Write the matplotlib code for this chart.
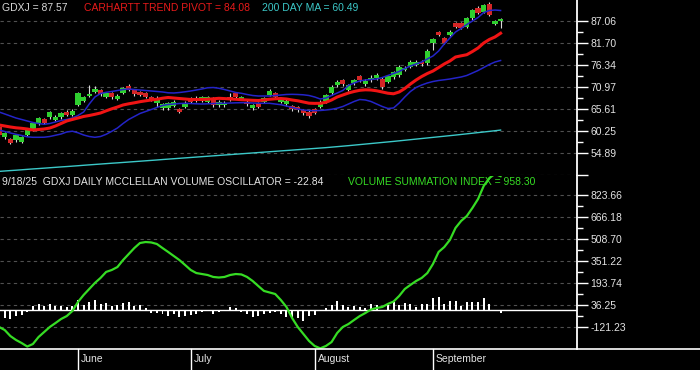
import numpy as np
import matplotlib.pyplot as plt
import matplotlib.transforms as mtransforms
from matplotlib.lines import Line2D

plt.rcParams['font.family'] = ['Liberation Sans', 'DejaVu Sans']

# GDXJ daily bars 5/12/25 .. 9/18/25 (one entry per trading day)
opens = [61.31, 58.80, 58.24, 58.07, 57.66, 59.29, 60.51, 62.14, 63.11, 63.60,
         62.94, 63.60, 64.97, 64.16, 66.60, 67.65, 68.79, 69.69, 70.25, 68.62,
         69.45, 68.06, 69.52, 71.23, 70.13, 69.77, 69.45, 68.62, 67.01, 65.79,
         65.79, 66.35, 65.55, 66.18, 68.23, 68.23, 67.69, 67.40, 68.23, 66.60,
         66.60, 68.62, 69.45, 68.06, 67.40, 65.79, 67.01, 67.40, 69.03, 69.45,
         67.33, 66.84, 66.35, 66.11, 65.38, 64.97, 65.55, 66.18, 67.57, 69.45,
         71.47, 72.69, 70.25, 71.88, 73.66, 71.71, 72.69, 73.10, 72.93, 72.27,
         73.35, 73.91, 75.12, 75.93, 76.34, 77.07, 76.76, 81.63, 84.31, 82.85,
         83.65, 86.50, 86.58, 85.67, 87.72, 90.16, 89.33, 91.21, 86.45, 86.95]
highs = [61.6, 60.1, 58.6, 59.6, 59.1, 60.8, 62.5, 63.7, 63.5, 65.1,
         64.1, 64.9, 65.4, 65.6, 69.8, 68.8, 71.5, 71.3, 70.6, 69.8,
         69.8, 69.2, 71.0, 71.6, 70.5, 70.1, 69.8, 68.9, 68.8, 67.1,
         67.3, 67.7, 65.9, 67.5, 68.6, 68.9, 68.9, 68.9, 68.6, 67.8,
         67.5, 69.4, 69.8, 68.9, 67.7, 66.9, 67.3, 68.5, 70.4, 69.8,
         68.4, 68.0, 66.7, 66.4, 65.7, 65.3, 65.9, 67.7, 69.3, 71.4,
         72.6, 73.0, 71.8, 73.0, 74.0, 72.9, 73.8, 74.3, 73.3, 74.0,
         75.0, 76.3, 76.2, 77.5, 77.5, 77.6, 80.2, 82.9, 84.7, 83.2,
         84.8, 86.9, 86.9, 88.1, 90.1, 90.6, 91.3, 91.8, 87.4, 87.9]
lows = [58.9, 58.4, 57.0, 57.7, 57.3, 59.0, 60.2, 61.8, 61.9, 63.3,
        62.6, 63.3, 63.8, 63.8, 66.3, 67.3, 68.5, 69.4, 68.9, 68.3,
        68.1, 67.7, 69.2, 70.0, 68.9, 68.7, 68.3, 67.5, 66.2, 65.4,
        65.4, 66.0, 64.6, 65.8, 67.0, 67.3, 67.3, 67.0, 66.0, 66.2,
        66.0, 67.5, 68.3, 67.7, 66.4, 65.4, 65.8, 67.0, 68.7, 68.1,
        67.0, 66.4, 65.2, 65.0, 64.2, 63.5, 64.3, 65.8, 67.2, 69.1,
        71.1, 71.3, 69.9, 71.5, 72.3, 71.3, 72.3, 72.7, 70.5, 71.9,
        73.0, 73.5, 74.8, 75.5, 76.0, 76.2, 76.4, 80.0, 83.3, 81.4,
        83.3, 85.3, 85.0, 85.3, 87.4, 88.7, 89.0, 88.2, 86.1, 85.3]
closes = [59.29, 59.78, 57.41, 59.29, 58.87, 60.51, 62.29, 63.36, 62.29, 64.82,
          63.75, 64.58, 64.16, 65.21, 69.45, 68.47, 69.20, 70.50, 69.28, 69.45,
          68.47, 68.86, 70.62, 70.37, 69.28, 69.03, 68.62, 67.82, 67.99, 66.77,
          67.01, 67.40, 64.97, 67.16, 67.40, 67.69, 68.55, 68.62, 66.60, 67.40,
          67.16, 67.82, 68.62, 68.55, 66.84, 66.60, 66.18, 68.23, 70.08, 68.47,
          68.06, 67.65, 65.55, 65.38, 64.58, 63.92, 64.65, 67.40, 69.03, 71.06,
          72.27, 71.71, 71.47, 72.69, 72.69, 72.52, 73.18, 73.91, 70.91, 73.66,
          74.71, 75.93, 75.61, 77.15, 77.15, 76.59, 79.83, 82.60, 83.65, 81.78,
          84.46, 85.67, 85.36, 87.72, 89.74, 89.09, 90.96, 88.53, 87.06, 87.57]

# carhartt trend pivot (red)
pivot = [61.73, 61.48, 61.24, 61.04, 60.92, 60.75, 60.51, 60.63, 60.75, 60.99,
         61.48, 62.09, 62.70, 63.07, 63.43, 63.80, 64.04, 64.33, 64.65, 65.18,
         65.67, 66.11, 66.60, 66.89, 67.13, 67.40, 67.62, 67.82, 67.99, 68.25,
         68.43, 68.30, 68.18, 68.06, 67.94, 67.94, 67.94, 67.99, 68.11, 68.23,
         68.16, 68.06, 67.99, 67.89, 67.82, 67.74, 67.69, 67.82, 67.99, 68.11,
         68.18, 68.06, 67.82, 67.62, 67.33, 67.04, 66.99, 67.01, 67.26, 67.82,
         68.55, 69.03, 69.52, 69.89, 70.18, 70.30, 70.25, 70.06, 69.77, 69.47,
         69.33, 69.77, 70.62, 71.71, 72.69, 73.54, 74.27, 74.88, 75.73, 76.59,
         77.32, 78.29, 78.58, 78.85, 79.63, 80.49, 81.70, 82.56, 83.17, 84.08]
# blue bands
band_hi = [64.89, 64.41, 63.92, 63.43, 63.07, 62.70, 62.33, 62.09, 61.90, 62.09,
           62.46, 62.82, 63.07, 63.43, 64.04, 64.89, 66.84, 68.55, 69.40, 69.69,
           69.89, 70.13, 70.37, 70.50, 70.37, 70.25, 70.13, 70.01, 69.89, 69.77,
           69.57, 69.52, 69.64, 69.81, 70.01, 70.25, 70.50, 70.79, 70.86, 70.67,
           70.37, 70.01, 69.64, 69.45, 69.16, 68.91, 68.79, 68.79, 68.79, 68.91,
           69.03, 69.16, 69.20, 69.16, 69.08, 68.91, 68.55, 68.06, 68.30, 68.91,
           69.52, 70.13, 71.35, 71.96, 72.45, 72.69, 72.81, 72.93, 73.30, 73.79,
           74.27, 74.76, 75.49, 76.10, 76.59, 77.07, 77.81, 78.54, 79.75, 81.46,
           82.92, 84.38, 85.24, 86.21, 87.06, 87.92, 89.13, 89.62, 89.74, 89.62]
band_lo = [60.51, 60.14, 59.78, 59.46, 59.17, 58.85, 58.73, 58.73, 58.75, 58.92,
           59.22, 59.53, 60.02, 60.21, 59.83, 59.29, 58.92, 58.73, 58.92, 59.46,
           60.19, 60.99, 62.09, 63.07, 63.80, 64.53, 65.01, 65.50, 65.99, 66.48,
           66.72, 66.84, 66.96, 67.01, 66.96, 66.89, 66.84, 66.89, 66.96, 67.01,
           67.01, 67.08, 67.13, 67.16, 67.16, 67.08, 67.04, 67.01, 67.01, 66.84,
           66.67, 66.35, 65.99, 65.62, 65.38, 65.26, 65.21, 65.26, 65.38, 65.55,
           65.82, 66.23, 66.84, 67.45, 67.94, 67.82, 67.45, 66.84, 66.23, 65.75,
           65.87, 67.08, 68.55, 69.89, 70.86, 71.47, 71.96, 72.32, 72.57, 72.74,
           72.93, 73.18, 73.42, 73.79, 74.39, 75.00, 75.73, 76.47, 77.07, 77.44]
# 200 day moving average (cyan)
ma200 = [50.42, 50.52, 50.62, 50.71, 50.81, 50.92, 51.02, 51.11, 51.21, 51.31,
         51.41, 51.51, 51.60, 51.70, 51.80, 51.91, 52.01, 52.11, 52.21, 52.31,
         52.41, 52.50, 52.60, 52.70, 52.80, 52.90, 53.00, 53.10, 53.20, 53.31,
         53.41, 53.51, 53.61, 53.71, 53.81, 53.91, 54.01, 54.11, 54.21, 54.31,
         54.41, 54.51, 54.61, 54.71, 54.81, 54.91, 55.01, 55.11, 55.21, 55.31,
         55.41, 55.51, 55.61, 55.71, 55.81, 55.91, 56.01, 56.11, 56.21, 56.33,
         56.45, 56.57, 56.69, 56.82, 56.95, 57.08, 57.21, 57.34, 57.47, 57.60,
         57.73, 57.87, 58.01, 58.15, 58.29, 58.43, 58.57, 58.71, 58.85, 58.99,
         59.13, 59.27, 59.42, 59.57, 59.72, 59.87, 60.02, 60.17, 60.33, 60.49]

# mcclellan volume oscillator (bars) and volume summation index (green)
osc = [-41, -60, -64, -41, -36, -12, 31, 43, 31, 43,
       26, 31, 19, 31, 72, 36, 55, 72, 43, 50,
       31, 36, 50, 60, 31, 38, 12, -24, -22, -29,
       -41, -29, -53, -41, -36, -29, -17, 2, -29, -17,
       3, 19, 12, -17, -29, -48, -45, -29, -22, -17,
       -29, -50, -60, -55, -75, -45, -35, -8, 15, 35,
       62, 38, 25, 31, 24, 17, 41, 36, -10, 36,
       55, 36, 48, 41, 20, 45, 43, 83, 90, 43,
       67, 67, 31, 55, 60, 60, 83, 43, 2, -22.84]
vsi = [-121, -143, -186, -214, -236, -261, -243, -193, -157, -121,
       -93, -64, -43, -7, 58, 108, 151, 194, 230, 273,
       287, 308, 358, 401, 444, 480, 487, 484, 473, 444,
       416, 387, 358, 323, 287, 265, 258, 251, 237, 233,
       237, 251, 258, 255, 237, 208, 172, 137, 126, 115,
       72, 22, -57, -121, -171, -221, -257, -274, -257, -229,
       -164, -121, -100, -71, -43, -21, 4, 15, 22, 44,
       61, 101, 151, 180, 208, 230, 265, 330, 416, 451,
       502, 588, 638, 673, 731, 795, 888, 945, 975, 958.3]

month_names = ['June', 'July', 'August', 'September']
month_first = [14, 34, 56, 77]

price_ticks = [54.89, 60.25, 65.61, 70.97, 76.34, 81.70, 87.06]
osc_ticks = [-121.23, 36.25, 193.74, 351.22, 508.70, 666.18, 823.66]

W, H = 700, 370
split = 175.5   # pixel row where the two panels meet
bottom = 349    # pixel row of the date strip

fig = plt.figure(figsize=(7, 3.7), dpi=100, facecolor='black')
ax1 = fig.add_axes([0, 1 - split / H, 577 / W, split / H])
ax2 = fig.add_axes([0, 1 - bottom / H, 577 / W, (bottom - split) / H])


def estilo(ax, ticks, extra=None):
    ax.set_facecolor('black')
    for s in ['left', 'top', 'bottom']:
        ax.spines[s].set_visible(False)
    ax.spines['right'].set_color('white')
    ax.spines['right'].set_linewidth(1.3)
    ax.yaxis.tick_right()
    major = list(ticks) + (extra or [])
    labels = ['%.2f' % t for t in ticks] + [''] * len(extra or [])
    ax.set_yticks(major)
    ax.set_yticklabels(labels)
    ax.set_yticks([(a + b) / 2 for a, b in zip(ticks[:-1], ticks[1:])], minor=True)
    ax.tick_params(axis='y', which='major', colors='white', length=8, width=1,
                   pad=1.5, labelsize=7.5, labelcolor='#e4e4e4')
    ax.tick_params(axis='y', which='minor', colors='white', length=4.5, width=1)
    ax.set_xticks([])
    ax.grid(axis='y', which='major', color='#505050', linestyle=(0, (3, 3)), linewidth=0.8)
    ax.set_axisbelow(True)
    ax.set_xlim(0.16, 102.56)


idx = np.arange(len(closes))
o = np.array(opens)
c = np.array(closes)
up = c >= o
body = np.maximum(np.abs(c - o), 0.2)

# precio
estilo(ax1, price_ticks, [49.53])
ax1.set_ylim(49.42, 92.18)
ax1.vlines(idx, lows, highs, color='#d8d8d8', lw=0.8, zorder=3)
ax1.bar(idx[up], body[up], bottom=o[up], width=0.95, color='#2fcf2f', zorder=4)
ax1.bar(idx[~up], body[~up], bottom=c[~up], width=0.95, color='#d42626', zorder=4)
ax1.plot(idx, ma200, color='#3cc8c8', lw=1.0, zorder=5)
ax1.plot(idx, band_hi, color='#2424c8', lw=1.1, zorder=5)
ax1.plot(idx, band_lo, color='#2424c8', lw=1.1, zorder=5)
ax1.plot(idx, pivot, color='#f01414', lw=2.2, zorder=6)

# oscilador
estilo(ax2, osc_ticks)
ax2.set_ylim(-278.7, 963.2)
ax2.axhline(0, color='white', lw=1.0, zorder=2)
ax2.bar(idx, osc, width=0.35, color='white', zorder=3)
ax2.plot(idx, vsi, color='#36dc24', lw=1.6, zorder=4)

# meses
trans = mtransforms.blended_transform_factory(ax2.transData, ax2.transAxes)
strip = (H - bottom) / (bottom - split)
for name, i in zip(month_names, month_first):
    ax2.plot([i, i], [0, -strip], transform=trans, color='white', lw=1.0, clip_on=False)
    ax2.text(i + 0.55, -strip * 0.5, name, transform=trans, color='#e4e4e4',
             fontsize=7.5, va='center', ha='left')
fig.add_artist(Line2D([0, 1], [1 - bottom / H] * 2, color='white', lw=1.2))

# titulos
def texto(x, y, s, col):
    fig.text(x / W, 1 - y / H, s, color=col, fontsize=7.5, va='center', ha='left')

texto(2, 8, 'GDXJ = 87.57', '#d8d8d8')
texto(84, 8, 'CARHARTT TREND PIVOT = 84.08', '#e81a1a')
texto(262, 8, '200 DAY MA = 60.49', '#3cc8c8')
texto(2, 182, '9/18/25  GDXJ DAILY MCCLELLAN VOLUME OSCILLATOR = -22.84', '#e4e4e4')
texto(348, 182, 'VOLUME SUMMATION INDEX = 958.30', '#36dc24')

fig.savefig('out.png', dpi=100, facecolor='black')
